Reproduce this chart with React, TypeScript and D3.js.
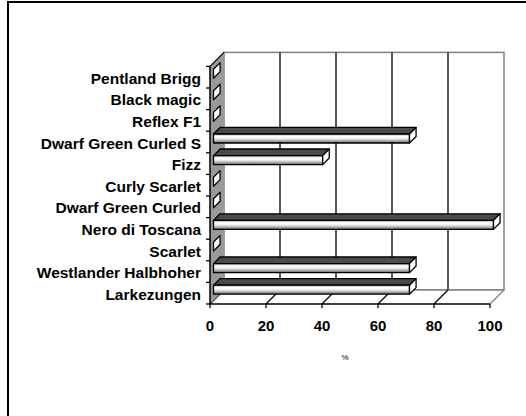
import React from "react";
import * as d3 from "d3";

const categories = [
  "Larkezungen",
  "Westlander Halbhoher",
  "Scarlet",
  "Nero di Toscana",
  "Dwarf Green Curled",
  "Curly Scarlet",
  "Fizz",
  "Dwarf Green Curled S",
  "Reflex  F1",
  "Black magic",
  "Pentland Brigg",
];
const values = [70, 70, 0, 100, 0, 0, 39, 70, 0, 0, 0];
const xTicks = [0, 20, 40, 60, 80, 100];
const axisTitle = "%";

const FONT = "'Liberation Sans', Arial, sans-serif";
const D = 14; // depth
const Z0 = 0.25;
const Z1 = 0.72;
const T = 9; // bar thickness

export default function App() {
  const x = d3.scaleLinear().domain([0, 100]).range([210, 490]);
  const y = d3.scaleBand<string>().domain(categories).range([304, 66.4]).padding(0);
  const bw = y.bandwidth();
  const yBottom = 304;
  const yTop = 66.4;
  const P = (v: number, yy: number, z: number): [number, number] => [x(v) + z * D, yy - z * D];
  const poly = (pts: [number, number][]) => "M" + pts.map((p) => p.join(",")).join("L") + "Z";

  return (
    <svg width={526} height={416} style={{ position: "absolute", left: 0, top: 0, background: "#fff" }}>
      <defs>
        <linearGradient id="barGrad" x1="0" y1="0" x2="0" y2="1">
          <stop offset="0%" stopColor="#9a9a9a" />
          <stop offset="25%" stopColor="#ffffff" />
          <stop offset="50%" stopColor="#f0f0f0" />
          <stop offset="80%" stopColor="#a0a0a0" />
          <stop offset="100%" stopColor="#606060" />
        </linearGradient>
      </defs>
      {/* outer border */}
      <rect x={8} y={2} width={560} height={460} fill="none" stroke="#000" strokeWidth={2} />

      {/* back wall */}
      <rect x={x(0) + D} y={yTop - D} width={x(100) - x(0)} height={yBottom - yTop} fill="#fff" stroke="#808080" strokeWidth={1.5} />
      {xTicks.slice(1, -1).map((t) => (
        <line key={"g" + t} x1={x(t) + D} x2={x(t) + D} y1={yTop - D} y2={yBottom - D} stroke="#000" strokeWidth={1.3} />
      ))}

      {/* floor */}
      <path d={poly([P(0, yBottom, 0), P(100, yBottom, 0), P(100, yBottom, 1), P(0, yBottom, 1)])} fill="#fff" stroke="none" />
      <line x1={P(0, yBottom, 1)[0]} y1={P(0, yBottom, 1)[1]} x2={P(100, yBottom, 1)[0]} y2={P(100, yBottom, 1)[1]} stroke="#808080" strokeWidth={1.5} />
      {xTicks.map((t) => (
        <line key={"d" + t} x1={P(t, yBottom, 0)[0]} y1={P(t, yBottom, 0)[1]} x2={P(t, yBottom, 1)[0]} y2={P(t, yBottom, 1)[1]}
          stroke={t === 100 ? "#808080" : "#000"} strokeWidth={1.3} />
      ))}

      {/* left wall */}
      <path d={poly([P(0, yTop, 0), P(0, yTop, 1), P(0, yBottom, 1), P(0, yBottom, 0)])} fill="#999" stroke="none" />
      <line x1={P(0, yTop, 0)[0]} y1={P(0, yTop, 0)[1]} x2={P(0, yTop, 1)[0]} y2={P(0, yTop, 1)[1]} stroke="#000" strokeWidth={1.3} />

      {/* bars */}
      {categories.map((c, i) => {
        const v = values[i];
        const yt = (y(c) as number) + (bw - T) / 2;
        const yb = yt + T;
        const front = poly([P(0, yt, Z0), P(v, yt, Z0), P(v, yb, Z0), P(0, yb, Z0)]);
        const top = poly([P(0, yt, Z0), P(v, yt, Z0), P(v, yt, Z1), P(0, yt, Z1)]);
        const end = poly([P(v, yt, Z0), P(v, yt, Z1), P(v, yb, Z1), P(v, yb, Z0)]);
        return (
          <g key={c} stroke="#000" strokeWidth={1.3} strokeLinejoin="round">
            {v > 0 && <path d={top} fill="#4a4a4a" />}
            {v > 0 && <path d={front} fill="url(#barGrad)" />}
            <path d={end} fill="#fff" />
          </g>
        );
      })}

      {/* axes */}
      <line x1={x(0)} x2={x(0)} y1={yTop} y2={yBottom} stroke="#000" strokeWidth={1.5} />
      {[...categories.map((c) => y(c) as number), yBottom].map((yy, i) => (
        <line key={"ct" + i} x1={x(0) - 4} x2={x(0)} y1={yy} y2={yy} stroke="#000" strokeWidth={1.3} />
      ))}
      <line x1={x(0)} x2={x(100)} y1={yBottom} y2={yBottom} stroke="#000" strokeWidth={1.5} />
      {xTicks.map((t) => (
        <line key={"xt" + t} x1={x(t)} x2={x(t)} y1={yBottom} y2={yBottom + 4} stroke="#000" strokeWidth={1.3} />
      ))}

      {/* labels */}
      {categories.map((c) => (
        <text key={"l" + c} x={201} y={(y(c) as number) + bw / 2 + 6.5} textAnchor="end" fontFamily={FONT} fontWeight="bold" fontSize={15.5} fill="#000">
          {c}
        </text>
      ))}
      {xTicks.map((t) => (
        <text key={"xl" + t} x={x(t)} y={330.5} textAnchor="middle" fontFamily={FONT} fontWeight="bold" fontSize={15} fill="#000">
          {t}
        </text>
      ))}
      <text x={345} y={360} textAnchor="middle" fontFamily={FONT} fontSize={8} fill="#000">
        {axisTitle}
      </text>
    </svg>
  );
}
